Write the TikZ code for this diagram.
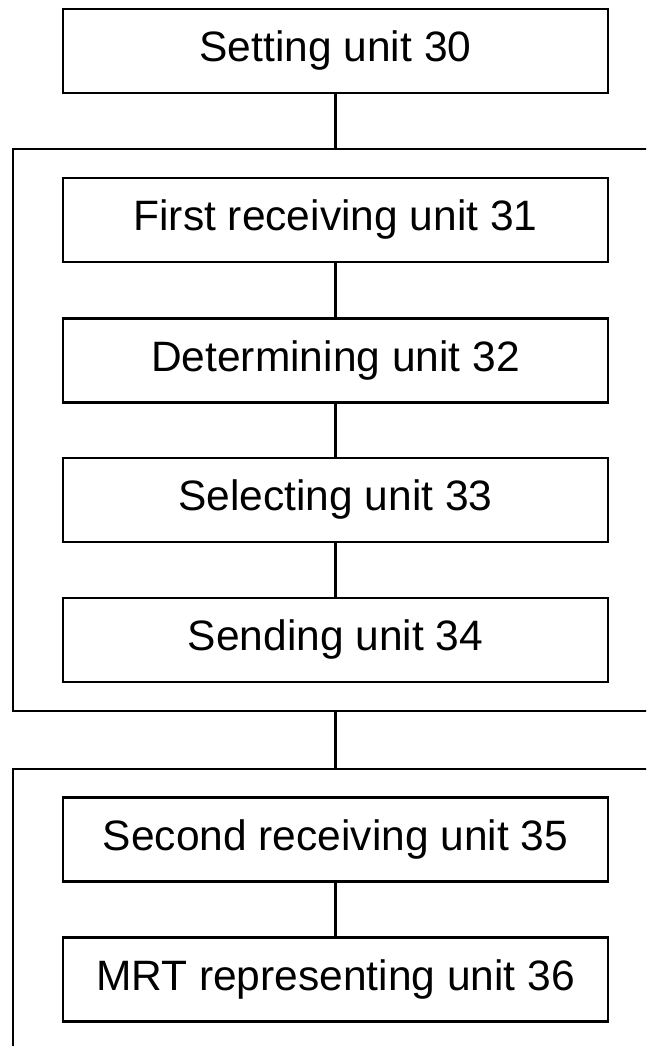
\documentclass[tikz,border=0pt]{standalone}
\usepackage{fontspec}
\setmainfont{Liberation Sans}

\begin{document}
\begin{tikzpicture}[x = 1pt, y = -1pt,
    unitbox/.style = {draw, line width = 2.6pt, inner sep = 0pt,
        minimum width = 545pt, minimum height = 84pt,
        font = \fontsize{42.5}{50}\selectfont},
    groupbox/.style = {draw, line width = 2.6pt, inner sep = 0pt}]

\clip (0, 0) rectangle (646, 1046);

	% setting unit
\node [unitbox] (setting) at (335.5, 51) {Setting unit 30};

	% first group
\node [groupbox, minimum width = 687pt, minimum height = 562pt] (grpA) at (356.5, 430) {};
\node [unitbox] (recvA) at (335.5, 220) {First receiving unit 31};
\node [unitbox] (determ) at (335.5, 360.5) {Determining unit 32};
\node [unitbox] (select) at (335.5, 500) {Selecting unit 33};
\node [unitbox] (send) at (335.5, 640) {Sending unit 34};

	% second group
\node [groupbox, minimum width = 687pt, minimum height = 331pt] (grpB) at (356.5, 934.5) {};
\node [unitbox] (recvB) at (335.5, 839.5) {Second receiving unit 35};
\node [unitbox] (mrt) at (335.5, 979.5) {MRT representing unit 36};

	% links
\draw [line width = 2.2pt] (setting.south) -- (setting.south |- grpA.north);
\draw [line width = 2.2pt] (recvA) -- (determ);
\draw [line width = 2.2pt] (determ) -- (select);
\draw [line width = 2.2pt] (select) -- (send);
\draw [line width = 2.2pt] (send.south |- grpA.south) -- (send.south |- grpB.north);
\draw [line width = 2.2pt] (recvB) -- (mrt);

\end{tikzpicture}
\end{document}
